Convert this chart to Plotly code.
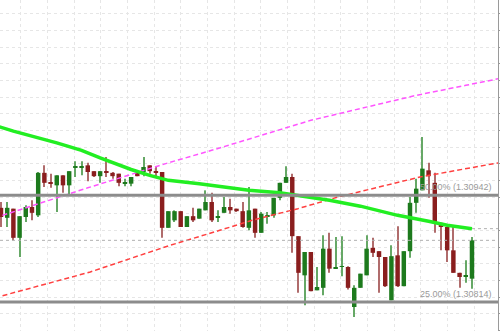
import plotly.graph_objects as go

# ---------------- data ----------------
opens = [1.30927, 1.30915, 1.30926, 1.30891, 1.30916, 1.30928, 1.30918, 1.30969, 1.30957, 1.30954,
         1.30966, 1.30954, 1.30975, 1.30975, 1.30978, 1.30971, 1.30965, 1.30971, 1.30969, 1.30968,
         1.30956, 1.30956, 1.30969, 1.30970, 1.30978, 1.30971, 1.30970, 1.30903, 1.30912, 1.30923,
         1.30904, 1.30917, 1.30914, 1.30924, 1.30934, 1.30915, 1.30921, 1.30928, 1.30926, 1.30923,
         1.30903, 1.30926, 1.30897, 1.30917, 1.30918, 1.30939, 1.30957, 1.30964, 1.30893, 1.30846,
         1.30874, 1.30828, 1.30831, 1.30878, 1.30854, 1.30856, 1.30856, 1.30808, 1.30831, 1.30846,
         1.30879, 1.30875, 1.30868, 1.30816, 1.30870, 1.30833, 1.30875, 1.30933, 1.30948, 1.30972,
         1.30957, 1.30909, 1.30904, 1.30876, 1.30849, 1.30845, 1.30842]
highs = [1.30934, 1.30934, 1.30926, 1.30917, 1.30930, 1.30936, 1.30970, 1.30978, 1.30968, 1.30966,
         1.30966, 1.30971, 1.30983, 1.30983, 1.30981, 1.30971, 1.30971, 1.30988, 1.30970, 1.30968,
         1.30962, 1.30964, 1.30972, 1.30988, 1.30978, 1.30976, 1.30970, 1.30923, 1.30924, 1.30923,
         1.30917, 1.30927, 1.30926, 1.30948, 1.30945, 1.30924, 1.30940, 1.30938, 1.30926, 1.30934,
         1.30952, 1.30926, 1.30922, 1.30922, 1.30939, 1.30957, 1.30977, 1.30968, 1.30893, 1.30874,
         1.30874, 1.30856, 1.30894, 1.30897, 1.30892, 1.30893, 1.30857, 1.30834, 1.30848, 1.30894,
         1.30891, 1.30875, 1.30868, 1.30882, 1.30905, 1.30875, 1.30940, 1.30962, 1.31012, 1.30981,
         1.30969, 1.30909, 1.30904, 1.30906, 1.30849, 1.30864, 1.30892]
lows = [1.30904, 1.30904, 1.30888, 1.30868, 1.30910, 1.30912, 1.30916, 1.30952, 1.30951, 1.30922,
        1.30945, 1.30942, 1.30964, 1.30966, 1.30959, 1.30964, 1.30957, 1.30964, 1.30962, 1.30953,
        1.30953, 1.30953, 1.30965, 1.30965, 1.30968, 1.30964, 1.30891, 1.30903, 1.30910, 1.30904,
        1.30904, 1.30910, 1.30914, 1.30924, 1.30910, 1.30910, 1.30921, 1.30920, 1.30922, 1.30903,
        1.30900, 1.30891, 1.30897, 1.30908, 1.30915, 1.30936, 1.30957, 1.30873, 1.30825, 1.30810,
        1.30827, 1.30828, 1.30822, 1.30849, 1.30854, 1.30845, 1.30829, 1.30796, 1.30831, 1.30846,
        1.30868, 1.30825, 1.30832, 1.30816, 1.30832, 1.30833, 1.30867, 1.30921, 1.30948, 1.30939,
        1.30897, 1.30876, 1.30862, 1.30849, 1.30831, 1.30837, 1.30830]
closes = [1.30916, 1.30927, 1.30891, 1.30917, 1.30928, 1.30921, 1.30969, 1.30957, 1.30956, 1.30966,
          1.30954, 1.30971, 1.30976, 1.30977, 1.30970, 1.30965, 1.30971, 1.30969, 1.30965, 1.30957,
          1.30957, 1.30964, 1.30965, 1.30976, 1.30971, 1.30969, 1.30903, 1.30923, 1.30923, 1.30904,
          1.30917, 1.30912, 1.30926, 1.30934, 1.30912, 1.30916, 1.30928, 1.30924, 1.30923, 1.30904,
          1.30924, 1.30897, 1.30920, 1.30918, 1.30939, 1.30957, 1.30964, 1.30893, 1.30849, 1.30874,
          1.30827, 1.30832, 1.30878, 1.30854, 1.30855, 1.30857, 1.30831, 1.30831, 1.30848, 1.30878,
          1.30873, 1.30868, 1.30833, 1.30869, 1.30833, 1.30875, 1.30933, 1.30950, 1.30974, 1.30965,
          1.30909, 1.30904, 1.30876, 1.30849, 1.30844, 1.30846, 1.30888]

# moving average (green), sampled at candle indices
ma_x = [-1, 2, 9, 13, 16, 21, 24, 27, 32, 40, 45, 50, 53, 58, 64, 69, 72, 76]
ma_y = [1.31026, 1.31019, 1.31005, 1.30996, 1.30987, 1.30973, 1.30966, 1.30960, 1.30956,
        1.30948, 1.30945, 1.30940, 1.30936, 1.30929, 1.30918, 1.30911, 1.30906, 1.30902]

# magenta dashed channel line
mag_x = [-1, 14, 27, 34, 50, 59, 67, 75, 81]
mag_y = [1.30915, 1.30951, 1.30981, 1.30996, 1.31032, 1.31048, 1.31062, 1.31074, 1.31083]

# red dashed channel line
red_x = [-1, 9.5, 14.4, 20, 27.3, 35.3, 40.5, 47.9, 54.4, 67.6, 81]
red_y = [1.30819, 1.30840, 1.30850, 1.30864, 1.30882, 1.30900, 1.30912, 1.30926, 1.30940, 1.30964, 1.30982]

# fibonacci levels
fib_prices = [1.30942, 1.30814]
fib_labels = ["50.00% (1.30942)", "25.00% (1.30814)"]
fib_hidden_label = "0.00% (1.30686)"

# ---------------- derived ----------------
n = len(opens)
idx = list(range(n))
up = [c >= o for o, c in zip(opens, closes)]
GREEN_BODY, GREEN_WICK = "#1d7a1d", "#66a866"
RED_BODY, RED_WICK = "#8a1e1e", "#b06c6c"
min_h = 0.000012

wick_base = lows
wick_h = [h - l for h, l in zip(highs, lows)]
wick_col = [GREEN_WICK if u else RED_WICK for u in up]
body_base = [min(o, c) for o, c in zip(opens, closes)]
body_h = [max(abs(c - o), min_h) for o, c in zip(opens, closes)]
body_col = [GREEN_BODY if u else RED_BODY for u in up]

X0, X1 = -0.161, 80.2
Y0, Y1 = 1.307792, 1.311764

fig = go.Figure()
fig.add_trace(go.Bar(x=idx, y=wick_h, base=wick_base, width=0.17,
                     marker=dict(color=wick_col, line=dict(width=0)), hoverinfo="skip"))
fig.add_trace(go.Bar(x=idx, y=body_h, base=body_base, width=0.72,
                     marker=dict(color=body_col, line=dict(width=0)), hoverinfo="skip"))
fig.add_trace(go.Scatter(x=mag_x, y=mag_y, mode="lines",
                         line=dict(color="#ff55ff", width=1.5, dash="5px,3px"), hoverinfo="skip"))
fig.add_trace(go.Scatter(x=red_x, y=red_y, mode="lines",
                         line=dict(color="#ff4040", width=1.5, dash="5px,3px"), hoverinfo="skip"))
fig.add_trace(go.Scatter(x=ma_x, y=ma_y, mode="lines",
                         line=dict(color="#22ee22", width=3.5), hoverinfo="skip"))

shapes = []
# current price dotted line
shapes.append(dict(type="line", xref="paper", x0=0, x1=1, yref="y", y0=closes[-1], y1=closes[-1],
                   line=dict(color="#b0b0b0", width=1, dash="dot"), layer="above"))
# MA end level
shapes.append(dict(type="line", xref="x", x0=ma_x[-1], x1=X1, yref="y", y0=ma_y[-1], y1=ma_y[-1],
                   line=dict(color="#b0b0b0", width=1, dash="dot"), layer="above"))
for p in fib_prices:
    shapes.append(dict(type="line", xref="paper", x0=0, x1=1, yref="y", y0=p, y1=p,
                       line=dict(color="#8c8c8c", width=3), layer="above"))

annotations = []
for p, t in zip(fib_prices, fib_labels):
    annotations.append(dict(x=79.6, y=p, xref="x", yref="y", text=t, showarrow=False,
                            xanchor="right", yanchor="bottom", yshift=1,
                            font=dict(family="Liberation Sans", size=9, color="#9a9a9a")))
annotations.append(dict(x=79.6, y=1.307816, xref="x", yref="y", text=fib_hidden_label, showarrow=False,
                        xanchor="right", yanchor="top",
                        font=dict(family="Liberation Sans", size=9, color="#9a9a9a")))

fig.update_layout(
    width=500, height=331,
    margin=dict(l=0, r=2, t=0, b=0),
    paper_bgcolor="white", plot_bgcolor="white",
    barmode="overlay", showlegend=False, hovermode=False,
    shapes=shapes, annotations=annotations,
    xaxis=dict(range=[X0, X1], showgrid=True, gridcolor="#e6e6e6", griddash="dot", gridwidth=1,
               tick0=3.18, dtick=4.304, showticklabels=False, zeroline=False, showline=False,
               ticks=""),
    yaxis=dict(range=[Y0, Y1], side="right", showgrid=True, gridcolor="#e6e6e6", griddash="dot",
               gridwidth=1, tick0=1.3094, dtick=0.0002, showticklabels=False, zeroline=False,
               showline=True, linecolor="#9a9a9a", linewidth=1, ticks="outside", ticklen=3,
               tickcolor="#9a9a9a"),
)

fig.write_html("out.html")
